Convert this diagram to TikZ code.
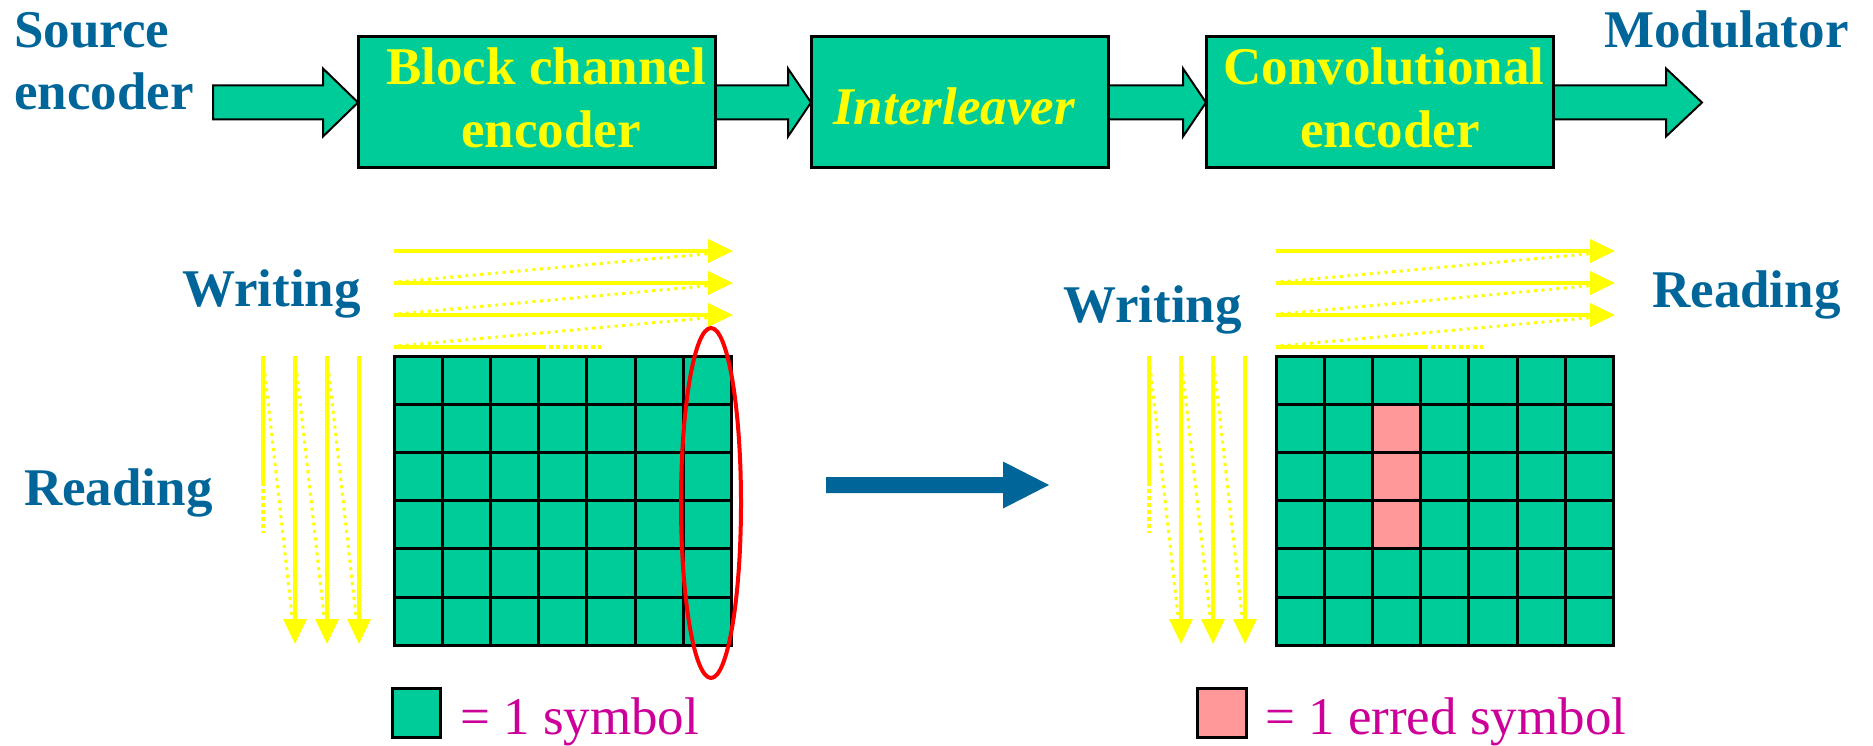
\documentclass[tikz,border=0pt]{standalone}
\usepackage{fontspec}
\setmainfont{Liberation Serif}
\usetikzlibrary{arrows.meta,calc}
\definecolor{tealc}{RGB}{0,204,153}
\definecolor{yel}{RGB}{255,255,0}
\definecolor{dblue}{RGB}{0,102,153}
\definecolor{pinkc}{RGB}{255,153,153}
\definecolor{mag}{RGB}{204,0,153}
\tikzset{
 lbl/.style={inner sep=0pt, text=dblue, font=\fontsize{53}{60}\selectfont\bfseries, anchor=base west},
 boxtxt/.style={inner sep=0pt, text=yel, font=\fontsize{53}{60}\selectfont\bfseries, anchor=base},
 blockbox/.style={draw=black, line width=3pt, fill=tealc, inner sep=0pt, outer sep=0pt, minimum height=131pt},
 fat/.style={draw=black, line width=2pt, fill=tealc, line join=miter},
 bigblue/.style={fill=dblue},
 yline/.style={draw=yel, line width=3.5pt},
 yarrow/.style={yline, -{Triangle[length=25pt,width=23pt]}},
 ydots/.style={draw=yel, line width=3pt, dash pattern=on 3pt off 4.5pt},
 ydash/.style={draw=yel, line width=4pt, dash pattern=on 4pt off 3pt},
 cellg/.style={draw=black, line width=3pt, fill=tealc},
 cellp/.style={draw=black, line width=3pt, fill=pinkc},
 legtxt/.style={inner sep=0pt, text=mag, font=\fontsize{53}{60}\selectfont, anchor=base west},
}
% #1 style, #2 start, #3 end, #4 shaft half, #5 head half, #6 head length
\newcommand\fatarrow[6]{%
 \path[#1] let \p1=(#2), \p2=(#3) in
   (\x1,\y1+#4) -- (\x2-#6,\y1+#4) -- (\x2-#6,\y1+#5) -- (\x2,\y1)
   -- (\x2-#6,\y1-#5) -- (\x2-#6,\y1-#4) -- (\x1,\y1-#4) -- cycle;}
% #1 grid left x, #2 first vertical line x
\newcommand\rwblock[2]{%
 \foreach \i in {0,...,6}{\foreach \j in {0,...,5}{
   \draw[cellg] ({#1+48.2*\i},{356+48.2*\j}) rectangle ++(48.2,48.2);}}
 \foreach \yy in {251,283,315}{\draw[yarrow] (#1,\yy) -- ({#1+339},\yy);}
 \foreach \yy in {251,283,315}{\draw[ydots] ({#1+4},{\yy+31}) -- ({#1+322},{\yy+2});}
 \draw[yline] (#1,347) -- ({#1+148},347);
 \draw[ydash] ({#1+148},347) -- ({#1+207},347);
 \draw[yline] (#2,356) -- (#2,482);
 \draw[ydash] (#2,482) -- (#2,533);
 \foreach \k in {1,2,3}{\draw[yarrow] ({#2+32*\k},356) -- ({#2+32*\k},644);}
 \foreach \k in {0,1,2}{\draw[ydots] ({#2+32*\k+1},366) -- ({#2+32*\k+29},616);}
}
\begin{document}
\begin{tikzpicture}[x=1pt,y=-1pt]
\useasboundingbox (0,0) rectangle (1873,746);
% top chain
\node[lbl] (src1) at (14,48) {Source};
\node[lbl] (src2) at (14,110) {encoder};
\node[lbl] (mod) at (1604,48) {Modulator};
\coordinate (a0) at (213,102.5);
\coordinate (a4) at (1702,102.5);
\node[blockbox, minimum width=357pt] (b1) at (536.5,102.5) {};
\node[blockbox, minimum width=297pt] (b2) at (959.5,102.5) {};
\node[blockbox, minimum width=347pt] (b3) at (1379.5,102.5) {};
\fatarrow{fat}{a0}{b1.west}{17pt}{34pt}{35pt}
\fatarrow{fat}{b1.east}{b2.west}{17pt}{34pt}{23pt}
\fatarrow{fat}{b2.east}{b3.west}{17pt}{34pt}{23pt}
\fatarrow{fat}{b3.east}{a4}{17pt}{34pt}{36pt}
\node[blockbox, minimum width=357pt] at (b1) {};
\node[blockbox, minimum width=297pt] at (b2) {};
\node[blockbox, minimum width=347pt] at (b3) {};
\node[boxtxt] (t1a) at (546,85) {Block channel};
\node[boxtxt] (t1b) at (551,148) {encoder};
\node[boxtxt, font=\fontsize{53}{60}\selectfont\bfseries\itshape] (t2) at (954,125) {Interleaver};
\node[boxtxt] (t3a) at (1384,85) {Convolutional};
\node[boxtxt] (t3b) at (1390,148) {encoder};
% left interleaver matrix
\node[lbl] (wl) at (182,306) {Writing};
\node[lbl] (rl) at (24,505) {Reading};
\rwblock{394}{263}
\draw[red, line width=4pt] (711,503) ellipse [x radius=30pt, y radius=175pt];
% big arrow
\coordinate (bs) at (826,485);
\coordinate (be) at (1049,485);
\fatarrow{bigblue}{bs}{be}{8pt}{23.5pt}{46pt}
% right matrix
\node[lbl] (wr) at (1063,322) {Writing};
\node[lbl] (rr) at (1652,307) {Reading};
\rwblock{1276}{1149}
\foreach \j in {1,2,3}{\draw[cellp] ({1276+48.2*2},{356+48.2*\j}) rectangle ++(48.2,48.2);}
% legends
\draw[cellg] (392,688) rectangle (440,737);
\node[legtxt] (lg1) at (460,734) {= 1 symbol};
\draw[cellp] (1197,688) rectangle (1246,737);
\node[legtxt] (lg2) at (1265,734) {= 1 erred symbol};
\end{tikzpicture}
\end{document}
